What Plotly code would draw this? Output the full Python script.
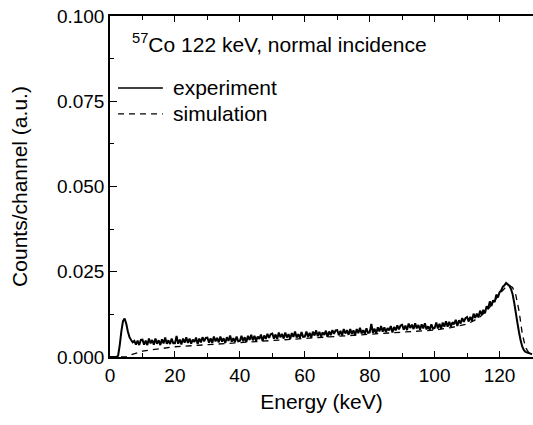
import plotly.graph_objects as go

# Experiment: channel energies (keV) on a 0.5 keV grid, counts/channel
exp_energy = [i * 0.5 for i in range(261)]
exp_counts = [
    0, 0, 0, 0, 0, 0.0004, 0.0035, 0.0075, 0.0105, 0.0113, 0.0098, 0.0075, 0.0058, 0.0050, 0.0043, 0.0047, 0.0036, 0.0048, 0.0035, 0.0050,
    0.0051, 0.0036, 0.0048, 0.0035, 0.0054, 0.0040, 0.0050, 0.0036, 0.0054, 0.0039, 0.0049, 0.0035, 0.0052, 0.0040, 0.0057, 0.0039, 0.0049, 0.0038, 0.0054, 0.0040,
    0.0040, 0.0062, 0.0039, 0.0051, 0.0037, 0.0054, 0.0042, 0.0058, 0.0041, 0.0054, 0.0039, 0.0051, 0.0044, 0.0057, 0.0038, 0.0054, 0.0043, 0.0058, 0.0046, 0.0056,
    0.0057, 0.0042, 0.0055, 0.0041, 0.0060, 0.0046, 0.0056, 0.0043, 0.0060, 0.0045, 0.0055, 0.0041, 0.0058, 0.0047, 0.0063, 0.0045, 0.0055, 0.0044, 0.0060, 0.0046,
    0.0047, 0.0062, 0.0046, 0.0058, 0.0044, 0.0062, 0.0050, 0.0065, 0.0049, 0.0062, 0.0048, 0.0060, 0.0053, 0.0066, 0.0047, 0.0063, 0.0053, 0.0068, 0.0056, 0.0067,
    0.0069, 0.0054, 0.0066, 0.0053, 0.0072, 0.0058, 0.0068, 0.0054, 0.0072, 0.0057, 0.0067, 0.0053, 0.0070, 0.0059, 0.0075, 0.0057, 0.0067, 0.0056, 0.0073, 0.0059,
    0.0060, 0.0075, 0.0059, 0.0071, 0.0057, 0.0074, 0.0063, 0.0078, 0.0061, 0.0074, 0.0060, 0.0072, 0.0065, 0.0077, 0.0059, 0.0075, 0.0064, 0.0079, 0.0068, 0.0078,
    0.0079, 0.0064, 0.0077, 0.0063, 0.0082, 0.0069, 0.0079, 0.0065, 0.0082, 0.0068, 0.0078, 0.0064, 0.0082, 0.0070, 0.0086, 0.0069, 0.0079, 0.0068, 0.0084, 0.0071,
    0.0072, 0.0097, 0.0071, 0.0083, 0.0069, 0.0087, 0.0075, 0.0091, 0.0074, 0.0087, 0.0073, 0.0085, 0.0078, 0.0091, 0.0072, 0.0088, 0.0078, 0.0093, 0.0081, 0.0092,
    0.0094, 0.0080, 0.0092, 0.0079, 0.0098, 0.0085, 0.0095, 0.0082, 0.0099, 0.0084, 0.0094, 0.0080, 0.0096, 0.0084, 0.0099, 0.0081, 0.0090, 0.0080, 0.0096, 0.0083,
    0.0085, 0.0101, 0.0084, 0.0097, 0.0083, 0.0101, 0.0089, 0.0105, 0.0089, 0.0103, 0.0089, 0.0102, 0.0096, 0.0109, 0.0091, 0.0108, 0.0098, 0.0114, 0.0103, 0.0114,
    0.0117, 0.0104, 0.0118, 0.0106, 0.0127, 0.0115, 0.0127, 0.0116, 0.0136, 0.0124, 0.0138, 0.0128, 0.0149, 0.0142, 0.0163, 0.0150, 0.0166, 0.0161, 0.0183, 0.0175,
    0.0190, 0.0195, 0.0206, 0.0210, 0.0217, 0.0213, 0.0209, 0.0200, 0.0185, 0.0160, 0.0130, 0.0100, 0.0072, 0.0048, 0.0030, 0.0020, 0.0015, 0.0013, 0.0012, 0.0010,
    0.0008,
]

# Simulation
sim_energy = [0, 4, 5, 6, 8, 10, 12, 15, 20, 25, 30, 35, 40, 45, 50, 55, 60, 65, 70, 75, 80, 85, 90, 95, 100,
              105, 110, 112, 114, 116, 118, 120, 121, 122, 123, 124, 125, 126, 127, 128, 129, 130]
sim_counts = [0, 0, 0, 0.0005, 0.0012, 0.0017, 0.0020, 0.0024, 0.0030, 0.0033, 0.0036, 0.0039, 0.0043, 0.0046,
              0.0049, 0.0051, 0.0053, 0.0056, 0.0059, 0.0062, 0.0065, 0.0068, 0.0071, 0.0075, 0.0079,
              0.0086, 0.0097, 0.0106, 0.0118, 0.0135, 0.0158, 0.0185, 0.0197, 0.0206, 0.0210, 0.0204,
              0.0182, 0.0135, 0.0068, 0.0028, 0.0012, 0.0005]

x_ticks = [0, 20, 40, 60, 80, 100, 120]
y_ticks = [0.0, 0.025, 0.05, 0.075, 0.1]
y_tick_labels = ["0.000", "0.025", "0.050", "0.075", "0.100"]

n = min(len(exp_energy), len(exp_counts))
FONT = "Liberation Sans, Arial, sans-serif"

fig = go.Figure()
fig.add_trace(go.Scatter(x=sim_energy, y=sim_counts, mode="lines", name="simulation",
                         line=dict(color="black", width=1.3, dash="6px,5px"), showlegend=False))
fig.add_trace(go.Scatter(x=exp_energy[:n], y=exp_counts[:n], mode="lines", name="experiment",
                         line=dict(color="black", width=2.0, simplify=False), showlegend=False))

axis_common = dict(showline=True, linecolor="black", linewidth=1.5, ticks="inside", tickcolor="black",
                   showgrid=False, zeroline=False, tickfont=dict(family=FONT, size=19, color="black"))

fig.update_xaxes(range=[0, 130.3], tickvals=x_ticks, ticklen=6, tickwidth=1.2, mirror="ticks",
                 minor=dict(dtick=10, ticks="inside", ticklen=4, tickcolor="black", tickwidth=1.2),
                 title=dict(text="Energy (keV)", font=dict(family=FONT, size=21, color="black"), standoff=10),
                 **axis_common)
fig.update_yaxes(range=[0, 0.1], tickvals=y_ticks, ticktext=y_tick_labels, ticklen=7, tickwidth=1.2,
                 minor=dict(dtick=0.0125, tick0=0, ticks="inside", ticklen=4, tickcolor="black", tickwidth=1.2),
                 title=dict(text="Counts/channel (a.u.)", font=dict(family=FONT, size=21, color="black"), standoff=24),
                 **axis_common)

# Legend drawn in paper coordinates
fig.add_shape(type="line", xref="paper", yref="paper", x0=0.019, x1=0.125, y0=0.789, y1=0.789,
              line=dict(color="black", width=1.6))
fig.add_shape(type="line", xref="paper", yref="paper", x0=0.019, x1=0.125, y0=0.713, y1=0.713,
              line=dict(color="black", width=1.3, dash="6px,5px"))
fig.add_annotation(xref="paper", yref="paper", x=0.145, y=0.789, text="experiment", showarrow=False,
                   xanchor="left", yanchor="middle", font=dict(family=FONT, size=21, color="black"))
fig.add_annotation(xref="paper", yref="paper", x=0.145, y=0.713, text="simulation", showarrow=False,
                   xanchor="left", yanchor="middle", font=dict(family=FONT, size=21, color="black"))
fig.add_annotation(xref="paper", yref="paper", x=0.048, y=0.921,
                   text="<sup>57</sup>Co 122 keV, normal incidence", showarrow=False,
                   xanchor="left", yanchor="middle", font=dict(family=FONT, size=21, color="black"))

fig.update_layout(width=533, height=425, margin=dict(l=110, r=0, t=16, b=68),
                  paper_bgcolor="white", plot_bgcolor="white", font=dict(family=FONT, color="black"))

fig.write_html("out.html")
